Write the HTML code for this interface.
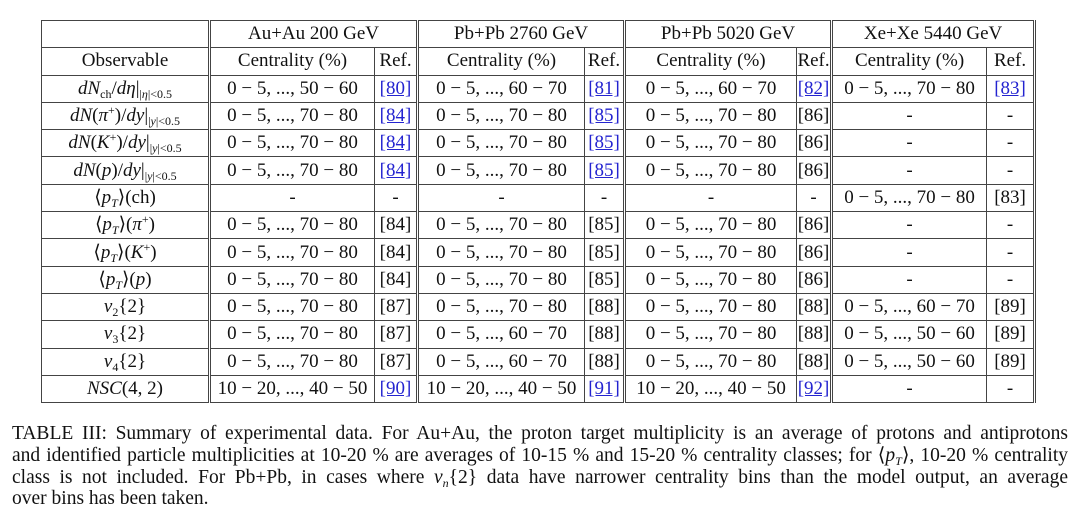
<!DOCTYPE html>
<html><head><meta charset="utf-8">
<style>
body{margin:0;width:1080px;height:532px;background:#fff;font-family:"Liberation Serif",serif;color:#111;position:relative;overflow:hidden}
table{position:absolute;left:41px;top:20px;width:993px;border-collapse:collapse;table-layout:fixed;font-size:19px}
td{border:1px solid #444;height:26.3px;padding:0;text-align:center;white-space:nowrap;line-height:20px;overflow:hidden}
td.d{border-right:3px double #444}
tr.top td{border-top:1px solid #444}
a{color:#2323d0;text-decoration:underline}
i{font-style:italic}
sub{font-size:12px;vertical-align:-4px;line-height:0}
sup{font-size:12px;vertical-align:7px;line-height:0}
.cap{position:absolute;left:12px;top:423px;width:1056px;font-size:19.5px;line-height:21.8px}
.cap div{text-align:justify;text-align-last:justify;white-space:nowrap}
.cap div.last{text-align-last:left}
</style></head><body>
<table>
<colgroup><col style="width:168px"><col style="width:165px"><col style="width:43px"><col style="width:167px"><col style="width:40px"><col style="width:172px"><col style="width:35px"><col style="width:155px"><col style="width:48px"></colgroup>
<tr class="top"><td class="d"></td><td colspan="2" class="d">Au+Au 200 GeV</td><td colspan="2" class="d">Pb+Pb 2760 GeV</td><td colspan="2" class="d">Pb+Pb 5020 GeV</td><td colspan="2" class="d">Xe+Xe 5440 GeV</td></tr>
<tr><td class="d">Observable</td><td>Centrality (%)</td><td class="d">Ref.</td><td>Centrality (%)</td><td class="d">Ref.</td><td>Centrality (%)</td><td class="d">Ref.</td><td>Centrality (%)</td><td class="d">Ref.</td></tr>
<tr><td class="d"><i>dN</i><sub>ch</sub>/<i>dη</i>|<sub>|<i>η</i>|&lt;0.5</sub></td><td>0 − 5, ..., 50 − 60</td><td class="d"><a>[80]</a></td><td>0 − 5, ..., 60 − 70</td><td class="d"><a>[81]</a></td><td>0 − 5, ..., 60 − 70</td><td class="d"><a>[82]</a></td><td>0 − 5, ..., 70 − 80</td><td class="d"><a>[83]</a></td></tr>
<tr><td class="d"><i>dN</i>(<i>π</i><sup>+</sup>)/<i>dy</i>|<sub>|<i>y</i>|&lt;0.5</sub></td><td>0 − 5, ..., 70 − 80</td><td class="d"><a>[84]</a></td><td>0 − 5, ..., 70 − 80</td><td class="d"><a>[85]</a></td><td>0 − 5, ..., 70 − 80</td><td class="d">[86]</td><td>-</td><td class="d">-</td></tr>
<tr><td class="d"><i>dN</i>(<i>K</i><sup>+</sup>)/<i>dy</i>|<sub>|<i>y</i>|&lt;0.5</sub></td><td>0 − 5, ..., 70 − 80</td><td class="d"><a>[84]</a></td><td>0 − 5, ..., 70 − 80</td><td class="d"><a>[85]</a></td><td>0 − 5, ..., 70 − 80</td><td class="d">[86]</td><td>-</td><td class="d">-</td></tr>
<tr><td class="d"><i>dN</i>(<i>p</i>)/<i>dy</i>|<sub>|<i>y</i>|&lt;0.5</sub></td><td>0 − 5, ..., 70 − 80</td><td class="d"><a>[84]</a></td><td>0 − 5, ..., 70 − 80</td><td class="d"><a>[85]</a></td><td>0 − 5, ..., 70 − 80</td><td class="d">[86]</td><td>-</td><td class="d">-</td></tr>
<tr><td class="d">⟨<i>p<sub>T</sub></i>⟩(ch)</td><td>-</td><td class="d">-</td><td>-</td><td class="d">-</td><td>-</td><td class="d">-</td><td>0 − 5, ..., 70 − 80</td><td class="d">[83]</td></tr>
<tr><td class="d">⟨<i>p<sub>T</sub></i>⟩(<i>π</i><sup>+</sup>)</td><td>0 − 5, ..., 70 − 80</td><td class="d">[84]</td><td>0 − 5, ..., 70 − 80</td><td class="d">[85]</td><td>0 − 5, ..., 70 − 80</td><td class="d">[86]</td><td>-</td><td class="d">-</td></tr>
<tr><td class="d">⟨<i>p<sub>T</sub></i>⟩(<i>K</i><sup>+</sup>)</td><td>0 − 5, ..., 70 − 80</td><td class="d">[84]</td><td>0 − 5, ..., 70 − 80</td><td class="d">[85]</td><td>0 − 5, ..., 70 − 80</td><td class="d">[86]</td><td>-</td><td class="d">-</td></tr>
<tr><td class="d">⟨<i>p<sub>T</sub></i>⟩(<i>p</i>)</td><td>0 − 5, ..., 70 − 80</td><td class="d">[84]</td><td>0 − 5, ..., 70 − 80</td><td class="d">[85]</td><td>0 − 5, ..., 70 − 80</td><td class="d">[86]</td><td>-</td><td class="d">-</td></tr>
<tr><td class="d"><i>v</i><sub>2</sub>{2}</td><td>0 − 5, ..., 70 − 80</td><td class="d">[87]</td><td>0 − 5, ..., 70 − 80</td><td class="d">[88]</td><td>0 − 5, ..., 70 − 80</td><td class="d">[88]</td><td>0 − 5, ..., 60 − 70</td><td class="d">[89]</td></tr>
<tr><td class="d"><i>v</i><sub>3</sub>{2}</td><td>0 − 5, ..., 70 − 80</td><td class="d">[87]</td><td>0 − 5, ..., 60 − 70</td><td class="d">[88]</td><td>0 − 5, ..., 70 − 80</td><td class="d">[88]</td><td>0 − 5, ..., 50 − 60</td><td class="d">[89]</td></tr>
<tr><td class="d"><i>v</i><sub>4</sub>{2}</td><td>0 − 5, ..., 70 − 80</td><td class="d">[87]</td><td>0 − 5, ..., 60 − 70</td><td class="d">[88]</td><td>0 − 5, ..., 70 − 80</td><td class="d">[88]</td><td>0 − 5, ..., 50 − 60</td><td class="d">[89]</td></tr>
<tr><td class="d"><i>NSC</i>(4, 2)</td><td>10 − 20, ..., 40 − 50</td><td class="d"><a>[90]</a></td><td>10 − 20, ..., 40 − 50</td><td class="d"><a>[91]</a></td><td>10 − 20, ..., 40 − 50</td><td class="d"><a>[92]</a></td><td>-</td><td class="d">-</td></tr>
</table>
<div class="cap">
<div>TABLE III: Summary of experimental data. For Au+Au, the proton target multiplicity is an average of protons and antiprotons</div>
<div>and identified particle multiplicities at 10-20 % are averages of 10-15 % and 15-20 % centrality classes; for ⟨<i>p<sub>T</sub></i>⟩, 10-20 % centrality</div>
<div>class is not included. For Pb+Pb, in cases where <i>v<sub>n</sub></i>{2} data have narrower centrality bins than the model output, an average</div>
<div class="last">over bins has been taken.</div>
</div>
</body></html>
